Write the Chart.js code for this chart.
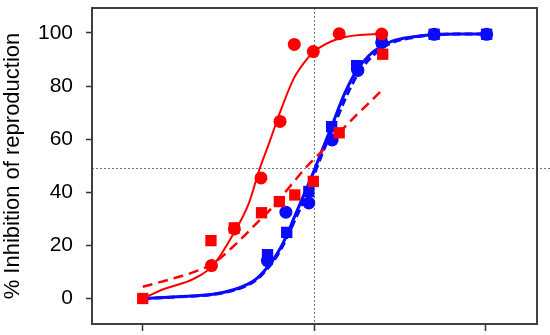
<!DOCTYPE html>
<html><head><meta charset="utf-8">
<script src="https://cdn.jsdelivr.net/npm/chart.js@4.4.1/dist/chart.umd.min.js"></script>
<style>html,body{margin:0;padding:0;background:#fff;}#wrap{width:550px;height:335px;position:relative;}</style>
</head><body><div id="wrap"><canvas id="c"></canvas></div>
<script>
// ---- data ----
const X_TICKS = [0, 1, 2];
const Y_TICKS = [0, 20, 40, 60, 80, 100];
const X_MIN = -0.296, X_MAX = 2.3, Y_MIN = -9.6, Y_MAX = 109.4;
const REF_X = 1, REF_Y = 49;
const Y_TITLE = '% Inhibition of reproduction';

const RED_CIRCLE_X = [0.401, 0.535, 0.69, 0.801, 0.884, 0.995, 1.146, 1.394];
const RED_CIRCLE_Y = [12.4, 26.2, 45.4, 66.7, 95.7, 93.0, 99.7, 99.6];
const RED_SQUARE_X = [0, 0.398, 0.534, 0.693, 0.797, 0.887, 0.995, 1.146, 1.40];
const RED_SQUARE_Y = [0, 21.8, 26.6, 32.3, 36.5, 39.0, 44.1, 62.4, 92.0];
const BLUE_CIRCLE_X = [0.727, 0.835, 0.969, 1.105, 1.255, 1.394, 1.70, 2.006];
const BLUE_CIRCLE_Y = [14.3, 32.5, 36.0, 59.7, 85.9, 96.4, 99.5, 99.5];
const BLUE_SQUARE_X = [0.728, 0.84, 0.969, 1.102, 1.248, 1.394, 1.70, 2.006];
const BLUE_SQUARE_Y = [16.5, 24.9, 40.3, 64.7, 87.7, 96.9, 99.5, 99.5];

const RED_FIT_X = [0, 0.12, 0.3, 0.41, 0.53, 0.62, 0.68, 0.74, 0.8, 0.88, 0.95, 1.0, 1.15, 1.4];
const RED_FIT_Y = [0, 3.5, 7.5, 12.5, 24.5, 36, 48.5, 59, 70, 82.7, 89.5, 93, 98, 99.8];
const RED_DASH_X = [0, 0.18, 0.3, 0.41, 0.53, 0.665, 0.745, 0.85, 0.947, 1.05, 1.146, 1.25, 1.384, 1.40];
const RED_DASH_Y = [4.4, 7.6, 10, 13.2, 19.7, 28.4, 33.6, 41.5, 49, 55.8, 62.4, 69.3, 77.7, 78.8];
const BLUE_FIT_X = [0, 0.2, 0.41, 0.53, 0.61, 0.67, 0.74, 0.79, 0.84, 0.88, 0.95, 1.005, 1.05, 1.1, 1.18, 1.25, 1.32, 1.394, 1.46, 1.55, 1.7, 1.85, 2.006];
const BLUE_FIT_Y = [0, 0.7, 1.6, 3.3, 5.3, 7.8, 12.8, 17.5, 23.8, 30, 40.5, 49, 56.5, 64.5, 77.5, 86, 91.5, 95.1, 97, 98.3, 99.4, 99.6, 99.6];
const BLUE_DASH_X = [0, 0.2, 0.41, 0.53, 0.61, 0.67, 0.74, 0.79, 0.84, 0.88, 0.95, 1.005, 1.05, 1.1, 1.18, 1.25, 1.32, 1.394, 1.46, 1.55, 1.7, 1.85, 2.006];
const BLUE_DASH_Y = [0, 0.6, 1.5, 3.1, 5.0, 7.4, 12.2, 16.8, 22.8, 28.5, 38.5, 47.5, 55, 62.5, 75, 84, 90, 94.2, 96.5, 98, 99.3, 99.6, 99.6];

// ---- chart ----
const pts = (xs, ys) => xs.map((x, i) => ({x: x, y: ys[i]}));
const RED = '#ff0000', BLUE = '#0a0aff';
const FONT = "'Liberation Sans', Arial, sans-serif";

const frameAndRefs = {
  id: 'frameAndRefs',
  beforeDatasetsDraw(chart) {
    const {ctx, chartArea: a, scales} = chart;
    const yp = scales.y.getPixelForValue(REF_Y);
    const xp = scales.x.getPixelForValue(REF_X);
    ctx.save();
    ctx.strokeStyle = '#777';
    ctx.lineWidth = 1;
    ctx.setLineDash([2, 2]);
    ctx.beginPath();
    ctx.moveTo(a.left, Math.round(yp) + 0.5);
    ctx.lineTo(chart.width, Math.round(yp) + 0.5);
    ctx.moveTo(Math.round(xp) + 0.5, a.top);
    ctx.lineTo(Math.round(xp) + 0.5, a.bottom);
    ctx.stroke();
    ctx.setLineDash([]);
    ctx.strokeStyle = '#404040';
    ctx.lineWidth = 2;
    ctx.strokeRect(a.left, a.top, a.right - a.left, a.bottom - a.top);
    ctx.restore();
  }
};

const scatterSet = (data, style, color, r) => ({
  data, showLine: false, pointStyle: style, pointRadius: r,
  pointBackgroundColor: color, pointBorderColor: color, pointBorderWidth: 0
});
const lineSet = (data, color, w, dash) => ({
  data, showLine: true, pointRadius: 0, borderColor: color, borderWidth: w,
  borderDash: dash, cubicInterpolationMode: 'monotone', fill: false
});

new Chart(document.getElementById('c'), {
  type: 'scatter',
  data: {
    datasets: [
      scatterSet(pts(RED_CIRCLE_X, RED_CIRCLE_Y), 'circle', RED, 6.5),
      scatterSet(pts(RED_SQUARE_X, RED_SQUARE_Y), 'rect', RED, 8),
      scatterSet(pts(BLUE_SQUARE_X, BLUE_SQUARE_Y), 'rect', BLUE, 8),
      scatterSet(pts(BLUE_CIRCLE_X, BLUE_CIRCLE_Y), 'circle', BLUE, 6.5),
      lineSet(pts(RED_FIT_X, RED_FIT_Y), RED, 2, []),
      lineSet(pts(RED_DASH_X, RED_DASH_Y), RED, 2.5, [10, 6]),
      lineSet(pts(BLUE_FIT_X, BLUE_FIT_Y), BLUE, 3, []),
      lineSet(pts(BLUE_DASH_X, BLUE_DASH_Y), BLUE, 3, [8, 4])
    ]
  },
  options: {
    responsive: true, maintainAspectRatio: false, animation: false,
    layout: {padding: {top: 5, right: 13, bottom: 0, left: 0}},
    plugins: {legend: {display: false}, tooltip: {enabled: false}},
    scales: {
      x: {
        type: 'linear', min: X_MIN, max: X_MAX,
        afterBuildTicks: s => { s.ticks = X_TICKS.map(v => ({value: v})); },
        afterFit: s => { s.height = 11; s.paddingLeft = 0; s.paddingRight = 0; s.paddingTop = 0; s.paddingBottom = 0; },
        ticks: {callback: () => '', padding: 0},
        grid: {drawOnChartArea: false, drawTicks: true, tickLength: 7, tickColor: '#333', tickWidth: 1.5},
        border: {display: false}
      },
      y: {
        type: 'linear', min: Y_MIN, max: Y_MAX,
        afterBuildTicks: s => { s.ticks = Y_TICKS.map(v => ({value: v})); },
        afterFit: s => { s.width = 92; s.paddingTop = 0; s.paddingBottom = 0; s.paddingLeft = 0; s.paddingRight = 0; },
        ticks: {color: '#000', padding: 13, font: {family: FONT, size: 21}, callback: v => String(v)},
        grid: {drawOnChartArea: false, drawTicks: true, tickLength: 6, tickColor: '#333', tickWidth: 1.5},
        border: {display: false},
        title: {display: true, text: Y_TITLE, color: '#000', padding: {top: 0, bottom: 0}, font: {family: FONT, size: 22}}
      }
    }
  },
  plugins: [frameAndRefs]
});
</script>
</body></html>
